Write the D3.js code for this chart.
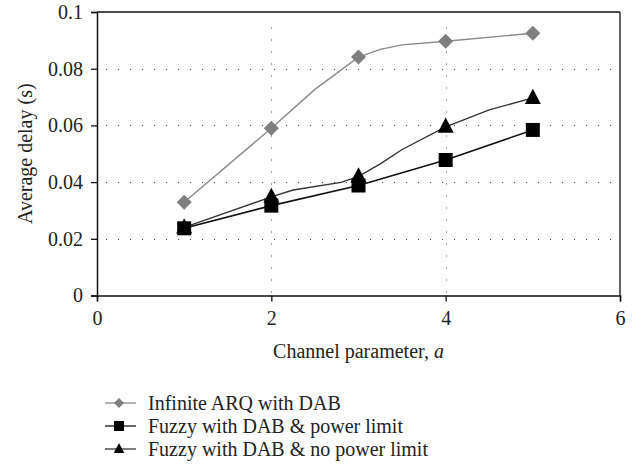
<!DOCTYPE html>
<html>
<head>
<meta charset="utf-8">
<script src="https://cdn.jsdelivr.net/npm/d3@7"></script>
<style>
  body { margin: 0; background: #fff; }
  svg { display: block; }
</style>
</head>
<body>
<svg id="chart" width="633" height="471"></svg>
<script>
// ---- data ----
const xTicks = [0, 2, 4, 6];
const yTicks = [0, 0.02, 0.04, 0.06, 0.08, 0.1];
const yTickLabels = ["0", "0.02", "0.04", "0.06", "0.08", "0.1"];
const seriesNames = ["Infinite ARQ with DAB", "Fuzzy with DAB & power limit", "Fuzzy with DAB & no power limit"];

// Infinite ARQ with DAB (curve points; markers at integer a)
const arqA = [1, 2, 2.5, 3, 3.25, 3.5, 4, 5];
const arqD = [0.0329, 0.0590, 0.0727, 0.0841, 0.0868, 0.0884, 0.0897, 0.0925];
// Fuzzy with DAB & power limit
const plA = [1, 2, 3, 4, 5];
const plD = [0.0237, 0.0317, 0.0388, 0.0478, 0.0584];
// Fuzzy with DAB & no power limit
const nplA = [1, 2, 2.25, 2.8, 3, 3.25, 3.5, 4, 4.5, 5];
const nplD = [0.0240, 0.0348, 0.0372, 0.0399, 0.0420, 0.0464, 0.0515, 0.0595, 0.0655, 0.0697];

const FONT = '"Liberation Serif", "Times New Roman", "DejaVu Serif", "Noto Serif", serif';
const FS = 20;

// ---- layout ----
const svg = d3.select("#chart");
const L = 97, R = 620, T = 12, B = 295.5;
const x = d3.scaleLinear().domain([0, 6]).range([L, R]);
const y = d3.scaleLinear().domain([0, 0.1]).range([B, T]);

// grid
const g = svg.append("g");
g.selectAll("line.hg").data(yTicks.filter(v => v > 0 && v < 0.1)).enter().append("line")
  .attr("x1", L + 9).attr("x2", R - 3)
  .attr("y1", d => Math.round(y(d)) + 0.5).attr("y2", d => Math.round(y(d)) + 0.5)
  .attr("stroke", "#444").attr("stroke-width", 1).attr("stroke-dasharray", "1,11");
g.selectAll("line.vg").data(xTicks.filter(v => v > 0 && v < 6)).enter().append("line")
  .attr("x1", d => Math.round(x(d)) + 0.5).attr("x2", d => Math.round(x(d)) + 0.5)
  .attr("y1", B - 3).attr("y2", T + 10)
  .attr("stroke", "#444").attr("stroke-width", 1).attr("stroke-dasharray", "1,11");

// frame (top, right)
svg.append("line").attr("x1", L).attr("x2", R).attr("y1", T).attr("y2", T).attr("stroke", "#111").attr("stroke-width", 1.3);
svg.append("line").attr("x1", R).attr("x2", R).attr("y1", T).attr("y2", B).attr("stroke", "#111").attr("stroke-width", 1.3);

// axes
const yAxis = d3.axisLeft(y).tickValues(yTicks).tickFormat((d, i) => yTickLabels[i]).tickSizeOuter(0).tickSize(6).tickPadding(8);
const xAxis = d3.axisBottom(x).tickValues(xTicks).tickFormat(d3.format("d")).tickSizeOuter(0).tickSize(6).tickPadding(9);
const ya = svg.append("g").attr("transform", `translate(${L},0)`).call(yAxis);
const xa = svg.append("g").attr("transform", `translate(0,${B})`).call(xAxis);
[ya, xa].forEach(a => {
  a.attr("font-family", FONT).attr("font-size", FS);
  a.select(".domain").attr("stroke", "#111").attr("stroke-width", 1.5);
  a.selectAll(".tick line").attr("stroke", "#111").attr("stroke-width", 1.3);
  a.selectAll("text").attr("fill", "#222").attr("font-family", FONT).attr("font-size", FS);
});

// axis titles
svg.append("text").attr("transform", `translate(32,${(T + B) / 2}) rotate(-90)`)
  .attr("text-anchor", "middle").attr("font-family", FONT).attr("font-size", FS).attr("fill", "#222")
  .text("Average delay (s)");
const xt = svg.append("text").attr("x", (L + R) / 2).attr("y", 358).attr("text-anchor", "middle")
  .attr("font-family", FONT).attr("font-size", FS).attr("fill", "#222");
xt.append("tspan").text("Channel parameter, ");
xt.append("tspan").attr("font-style", "italic").text("a");

// lines
const line = d3.line().x(d => x(d[0])).y(d => y(d[1]));
const arq = arqA.map((a, i) => [a, arqD[i]]);
const pl = plA.map((a, i) => [a, plD[i]]);
const npl = nplA.map((a, i) => [a, nplD[i]]);

svg.append("path").datum(arq).attr("d", line).attr("fill", "none").attr("stroke", "#8a8a8a").attr("stroke-width", 1.4);
svg.append("path").datum(npl).attr("d", line).attr("fill", "none").attr("stroke", "#333").attr("stroke-width", 1.4);
svg.append("path").datum(pl).attr("d", line).attr("fill", "none").attr("stroke", "#111").attr("stroke-width", 1.6);

const diamond = s => `M0,${-s}L${s},0L0,${s}L${-s},0Z`;
const square = s => `M${-s},${-s}H${s}V${s}H${-s}Z`;
const tri = s => `M0,${-s * 1.15}L${s},${s * 0.75}L${-s},${s * 0.75}Z`;

const isInt = d => Number.isInteger(d[0]);
svg.selectAll("path.dm").data(arq.filter(isInt)).enter().append("path")
  .attr("d", diamond(7.5)).attr("fill", "#7f7f7f")
  .attr("transform", d => `translate(${x(d[0])},${y(d[1])})`);
svg.selectAll("path.tr").data(npl.filter(isInt)).enter().append("path")
  .attr("d", tri(8)).attr("fill", "#000")
  .attr("transform", d => `translate(${x(d[0])},${y(d[1])})`);
svg.selectAll("path.sq").data(pl.filter(isInt)).enter().append("path")
  .attr("d", square(7)).attr("fill", "#000")
  .attr("transform", d => `translate(${x(d[0])},${y(d[1])})`);

// legend
const legY = [403, 426, 449];
const legColors = ["#8a8a8a", "#111", "#333"];
const legMarks = [diamond(5), square(5), tri(5.3)];
const legFill = ["#7f7f7f", "#000", "#000"];
seriesNames.forEach((n, i) => {
  const gg = svg.append("g").attr("transform", `translate(0,${legY[i]})`);
  gg.append("line").attr("x1", 105).attr("x2", 136).attr("y1", 0).attr("y2", 0)
    .attr("stroke", legColors[i]).attr("stroke-width", 1.3);
  gg.append("path").attr("d", legMarks[i]).attr("fill", legFill[i]).attr("transform", "translate(119,0)");
  gg.append("text").attr("x", 148).attr("y", 6.5).attr("font-family", FONT).attr("font-size", FS)
    .attr("fill", "#222").text(n);
});
</script>
</body>
</html>
